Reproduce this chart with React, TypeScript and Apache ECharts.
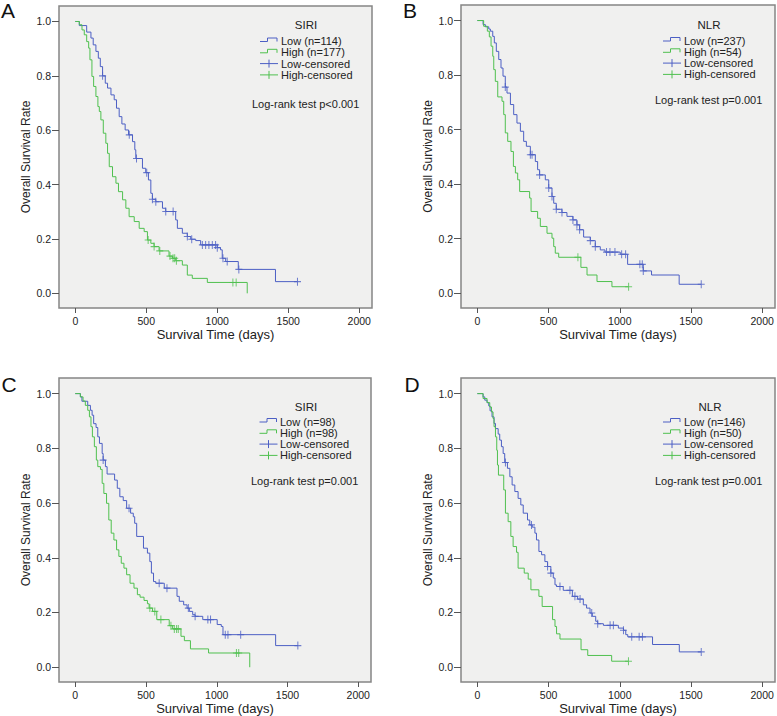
import React, { useEffect, useRef } from 'react';
import * as echarts from 'echarts';

// ---- tick labels ----
const xTicks = [0, 500, 1000, 1500, 2000];
const yTicks = [0, 0.2, 0.4, 0.6, 0.8, 1.0];

// ---- Panel A (SIRI) ----
const aLowT = [28, 80, 110, 126, 145, 162, 176, 192, 211, 227, 251, 274, 290, 309, 328, 351, 375, 403, 419, 426, 473, 496, 515, 532, 543, 567, 614, 637, 707, 719, 754, 789, 813, 848, 883, 1000, 1023, 1035, 1059, 1148, 1410];
const aLowS = [0.985, 0.961, 0.939, 0.914, 0.890, 0.865, 0.834, 0.800, 0.773, 0.755, 0.730, 0.712, 0.681, 0.650, 0.623, 0.601, 0.583, 0.558, 0.528, 0.496, 0.460, 0.444, 0.417, 0.368, 0.346, 0.337, 0.313, 0.301, 0.270, 0.239, 0.221, 0.209, 0.199, 0.194, 0.178, 0.168, 0.160, 0.129, 0.117, 0.088, 0.043];
const aLowCens = [192, 380, 431, 503, 543, 567, 637, 689, 789, 820, 895, 918, 941, 965, 988, 1000, 1040, 1070, 1152, 1565];
const aHighT = [28, 47, 63, 80, 94, 103, 117, 129, 145, 159, 169, 180, 197, 215, 227, 239, 262, 286, 304, 333, 356, 379, 415, 450, 485, 508, 532, 555, 590, 660, 684, 707, 754, 789, 824, 930, 1211];
const aHighS = [0.988, 0.969, 0.951, 0.926, 0.902, 0.859, 0.798, 0.761, 0.724, 0.687, 0.669, 0.638, 0.589, 0.552, 0.515, 0.466, 0.429, 0.405, 0.374, 0.344, 0.313, 0.282, 0.264, 0.239, 0.227, 0.196, 0.184, 0.172, 0.156, 0.137, 0.129, 0.120, 0.104, 0.067, 0.055, 0.040, 0.0];
const aHighCens = [513, 555, 595, 667, 688, 700, 712, 1110, 1133];

// ---- Panel B (NLR) ----
const bLowT = [40, 56, 80, 91, 108, 119, 133, 150, 166, 180, 196, 208, 232, 255, 278, 302, 325, 344, 372, 407, 423, 437, 477, 501, 524, 536, 554, 594, 629, 671, 699, 718, 746, 793, 828, 863, 896, 1003, 1055, 1165, 1223, 1417];
const bLowS = [0.985, 0.977, 0.969, 0.961, 0.942, 0.918, 0.887, 0.857, 0.826, 0.796, 0.756, 0.734, 0.692, 0.655, 0.624, 0.594, 0.557, 0.539, 0.508, 0.483, 0.453, 0.434, 0.416, 0.386, 0.355, 0.330, 0.308, 0.296, 0.282, 0.269, 0.251, 0.233, 0.206, 0.193, 0.171, 0.159, 0.151, 0.143, 0.106, 0.082, 0.067, 0.033];
const bLowCens = [196, 372, 384, 437, 501, 524, 554, 594, 671, 699, 718, 793, 828, 907, 931, 966, 1013, 1041, 1141, 1158, 1165, 1572];
const bHighT = [44, 70, 84, 96, 108, 115, 126, 143, 173, 185, 196, 213, 236, 253, 267, 283, 297, 367, 377, 423, 442, 489, 524, 536, 547, 571, 727, 770, 840, 945];
const bHighS = [0.979, 0.961, 0.940, 0.906, 0.869, 0.820, 0.777, 0.720, 0.704, 0.655, 0.588, 0.557, 0.520, 0.465, 0.441, 0.416, 0.373, 0.349, 0.300, 0.275, 0.245, 0.220, 0.202, 0.171, 0.147, 0.132, 0.095, 0.067, 0.043, 0.024];
const bHighCens = [706, 1062];

// ---- Panel C (SIRI) ----
const cLowT = [36, 47, 88, 107, 119, 130, 147, 159, 171, 190, 197, 213, 225, 278, 297, 315, 339, 363, 391, 410, 420, 434, 482, 510, 527, 538, 553, 569, 629, 719, 735, 766, 790, 806, 830, 847, 901, 1003, 1032, 1044, 1416];
const cLowS = [0.988, 0.972, 0.957, 0.939, 0.921, 0.890, 0.876, 0.842, 0.818, 0.781, 0.757, 0.733, 0.706, 0.684, 0.654, 0.623, 0.609, 0.581, 0.563, 0.550, 0.526, 0.478, 0.435, 0.417, 0.386, 0.344, 0.313, 0.307, 0.289, 0.259, 0.241, 0.228, 0.216, 0.204, 0.192, 0.186, 0.174, 0.156, 0.149, 0.119, 0.079];
const cLowCens = [197, 380, 593, 648, 799, 847, 937, 956, 1060, 1079, 1169, 1573];
const cHighT = [36, 55, 71, 88, 100, 111, 121, 135, 149, 159, 178, 190, 202, 221, 237, 254, 273, 292, 308, 325, 344, 363, 387, 415, 439, 458, 486, 510, 522, 546, 576, 664, 688, 747, 771, 814, 942, 1233];
const cHighS = [0.988, 0.973, 0.957, 0.939, 0.915, 0.879, 0.842, 0.806, 0.757, 0.733, 0.723, 0.672, 0.635, 0.599, 0.538, 0.490, 0.465, 0.429, 0.405, 0.380, 0.362, 0.338, 0.307, 0.289, 0.265, 0.256, 0.244, 0.232, 0.216, 0.204, 0.174, 0.152, 0.140, 0.113, 0.097, 0.067, 0.052, 0.0];
const cHighCens = [527, 562, 605, 676, 700, 716, 728, 1139, 1155];

// ---- Panel D (NLR) ----
const dLowT = [40, 52, 68, 80, 89, 103, 117, 127, 146, 157, 169, 181, 192, 211, 228, 244, 263, 286, 305, 322, 352, 368, 385, 404, 415, 432, 451, 474, 493, 516, 533, 545, 556, 603, 667, 704, 744, 767, 791, 807, 831, 845, 885, 990, 1026, 1042, 1056, 1230, 1418];
const dLowS = [0.988, 0.976, 0.967, 0.955, 0.937, 0.915, 0.891, 0.872, 0.852, 0.830, 0.806, 0.781, 0.748, 0.727, 0.696, 0.666, 0.642, 0.617, 0.593, 0.563, 0.538, 0.520, 0.512, 0.490, 0.465, 0.423, 0.411, 0.386, 0.368, 0.344, 0.326, 0.301, 0.295, 0.281, 0.259, 0.249, 0.228, 0.216, 0.198, 0.186, 0.168, 0.159, 0.153, 0.143, 0.135, 0.119, 0.111, 0.083, 0.056];
const dLowCens = [197, 380, 493, 516, 580, 650, 685, 721, 803, 845, 932, 955, 1026, 1084, 1136, 1159, 1572];
const dHighT = [40, 68, 87, 99, 110, 117, 127, 136, 141, 148, 185, 197, 216, 235, 251, 275, 286, 329, 357, 376, 432, 455, 528, 545, 556, 580, 728, 775, 943];
const dHighS = [0.982, 0.967, 0.951, 0.933, 0.909, 0.879, 0.842, 0.793, 0.739, 0.702, 0.648, 0.563, 0.532, 0.478, 0.441, 0.420, 0.362, 0.344, 0.322, 0.283, 0.259, 0.222, 0.174, 0.149, 0.122, 0.103, 0.064, 0.043, 0.022];
const dHighCens = [1061];

// ---- labels ----
const panelLetters = ['A', 'B', 'C', 'D'];
const groupNames = ['SIRI', 'NLR', 'SIRI', 'NLR'];
const lowLabels = ['Low (n=114)', 'Low (n=237)', 'Low (n=98)', 'Low (n=146)'];
const highLabels = ['High (n=177)', 'High (n=54)', 'High (n=98)', 'High (n=50)'];
const pLabels = ['Log-rank test p<0.001', 'Log-rank test p=0.001', 'Log-rank test p=0.001', 'Log-rank test p=0.001'];

const BLUE = '#4c5fc4';
const GREEN = '#4fc04f';
const FONT = '"Liberation Sans", Arial, sans-serif';

const layout = [
  { grid: { left: 59, top: 6, width: 313, height: 302 }, letter: [1, 10], iconX: 260, textX: 281, row0: 41, title: [306, 24.5], p: [252, 104] },
  { grid: { left: 461, top: 5, width: 314, height: 303 }, letter: [403, 10], iconX: 663, textX: 684, row0: 40.5, title: [709, 24.5], p: [655, 99.5] },
  { grid: { left: 59, top: 378, width: 312, height: 304 }, letter: [1.5, 384.5], iconX: 259.5, textX: 280, row0: 421.5, title: [306, 406.5], p: [251, 480.5] },
  { grid: { left: 461, top: 378, width: 314, height: 304 }, letter: [404.5, 384.5], iconX: 663, textX: 684, row0: 421.5, title: [710, 406.5], p: [655, 480.5] },
];

const curves = [
  [aLowT, aLowS, aLowCens, aHighT, aHighS, aHighCens],
  [bLowT, bLowS, bLowCens, bHighT, bHighS, bHighCens],
  [cLowT, cLowS, cLowCens, cHighT, cHighS, cHighCens],
  [dLowT, dLowS, dLowCens, dHighT, dHighS, dHighCens],
];

function sAt(T: number[], S: number[], t: number) {
  let s = 1;
  for (let i = 0; i < T.length; i++) if (T[i] <= t) s = S[i];
  return s;
}

function stepData(T: number[], S: number[], cens: number[]) {
  const d: number[][] = [[0, 1]];
  T.forEach((t, i) => d.push([t, S[i]]));
  const lastC = cens.length ? Math.max(...cens) : 0;
  if (lastC > T[T.length - 1]) d.push([lastC, S[S.length - 1]]);
  return d;
}

const CROSS = 'path://M3,0h1v3h3v1h-3v3h-1v-3h-3v-1h3z';

export default function App() {
  const ref = useRef<HTMLDivElement>(null);
  useEffect(() => {
    if (!ref.current) return;
    const chart = echarts.init(ref.current, undefined, { renderer: 'svg' });
    const grids: any[] = [];
    const xAxes: any[] = [];
    const yAxes: any[] = [];
    const series: any[] = [];
    const graphics: any[] = [];

    layout.forEach((L, k) => {
      grids.push({ ...L.grid, show: true, backgroundColor: '#f0f0ef', borderColor: '#858585', borderWidth: 1.5, containLabel: false });
      xAxes.push({
        type: 'value', gridIndex: k, min: -115, max: 2090,
        axisLine: { show: false, onZero: false },
        splitLine: { show: false },
        axisTick: { show: true, inside: false, length: 5, lineStyle: { color: '#555', width: 1 }, customValues: xTicks },
        axisLabel: { customValues: xTicks, fontSize: 10.5, color: '#222', fontFamily: FONT, margin: 7, formatter: (v: number) => String(Math.round(v)) },
        name: 'Survival Time (days)', nameLocation: 'middle', nameGap: 20,
        nameTextStyle: { fontSize: 13, color: '#222', fontFamily: FONT, verticalAlign: 'top' },
      });
      yAxes.push({
        type: 'value', gridIndex: k, min: -0.054, max: 1.057,
        axisLine: { show: false, onZero: false },
        splitLine: { show: false },
        axisTick: { show: true, inside: false, length: 7, lineStyle: { color: '#555', width: 1 }, customValues: yTicks },
        axisLabel: { customValues: yTicks, fontSize: 10.5, color: '#222', fontFamily: FONT, margin: 8, formatter: (v: number) => v.toFixed(1) },
        name: 'Overall Survival Rate', nameLocation: 'middle', nameGap: 27,
        nameTextStyle: { fontSize: 12, color: '#222', fontFamily: FONT },
      });
      const [lT, lS, lC, hT, hS, hC] = curves[k];
      const lineCommon = { type: 'line', step: 'end', xAxisIndex: k, yAxisIndex: k, showSymbol: false, symbol: 'none', silent: true };
      series.push({ ...lineCommon, name: 'Low', data: stepData(lT, lS, lC), lineStyle: { color: BLUE, width: 1 } });
      series.push({ ...lineCommon, name: 'High', data: stepData(hT, hS, hC), lineStyle: { color: GREEN, width: 1 } });
      series.push({ type: 'scatter', xAxisIndex: k, yAxisIndex: k, symbol: CROSS, symbolSize: [7, 8], silent: true, name: 'Low-censored',
        data: lC.map((t) => [t, sAt(lT, lS, t)]), itemStyle: { color: BLUE } });
      series.push({ type: 'scatter', xAxisIndex: k, yAxisIndex: k, symbol: CROSS, symbolSize: [7, 8], silent: true, name: 'High-censored',
        data: hC.map((t) => [t, sAt(hT, hS, t)]), itemStyle: { color: GREEN } });

      // panel letter
      graphics.push({ type: 'text', x: L.letter[0], y: L.letter[1], style: { text: panelLetters[k], font: `21px ${FONT}`, fill: '#111', verticalAlign: 'middle', align: 'left' } });
      // legend title
      graphics.push({ type: 'text', x: L.title[0], y: L.title[1], style: { text: groupNames[k], font: `11.5px ${FONT}`, fill: '#222', align: 'center', verticalAlign: 'middle' } });
      const rows = [lowLabels[k], highLabels[k], 'Low-censored', 'High-censored'];
      const cols = [BLUE, GREEN, BLUE, GREEN];
      rows.forEach((txt, r) => {
        const y = L.row0 + r * 11.3;
        const x0 = L.iconX;
        if (r < 2) {
          graphics.push({ type: 'polyline', shape: { points: [[x0, y + 0.5], [x0 + 7.5, y + 0.5], [x0 + 7.5, y - 3], [x0 + 17, y - 3], [x0 + 17, y + 0.5]] }, style: { stroke: cols[r], lineWidth: 1, fill: 'none' } });
        } else {
          graphics.push({ type: 'line', shape: { x1: x0, y1: y, x2: x0 + 18, y2: y }, style: { stroke: cols[r], lineWidth: 1 } });
          graphics.push({ type: 'line', shape: { x1: x0 + 9, y1: y - 4, x2: x0 + 9, y2: y + 4 }, style: { stroke: cols[r], lineWidth: 1 } });
        }
        graphics.push({ type: 'text', x: L.textX, y, style: { text: txt, font: `11px ${FONT}`, fill: '#222', align: 'left', verticalAlign: 'middle' } });
      });
      graphics.push({ type: 'text', x: L.p[0], y: L.p[1], style: { text: pLabels[k], font: `11px ${FONT}`, fill: '#222', align: 'left', verticalAlign: 'middle' } });
    });

    chart.setOption({
      animation: false,
      backgroundColor: '#ffffff',
      grid: grids,
      xAxis: xAxes,
      yAxis: yAxes,
      series,
      graphic: graphics,
    });
    return () => chart.dispose();
  }, []);
  return <div ref={ref} style={{ position: 'fixed', left: 0, top: 0, width: 777, height: 716 }} />;
}
